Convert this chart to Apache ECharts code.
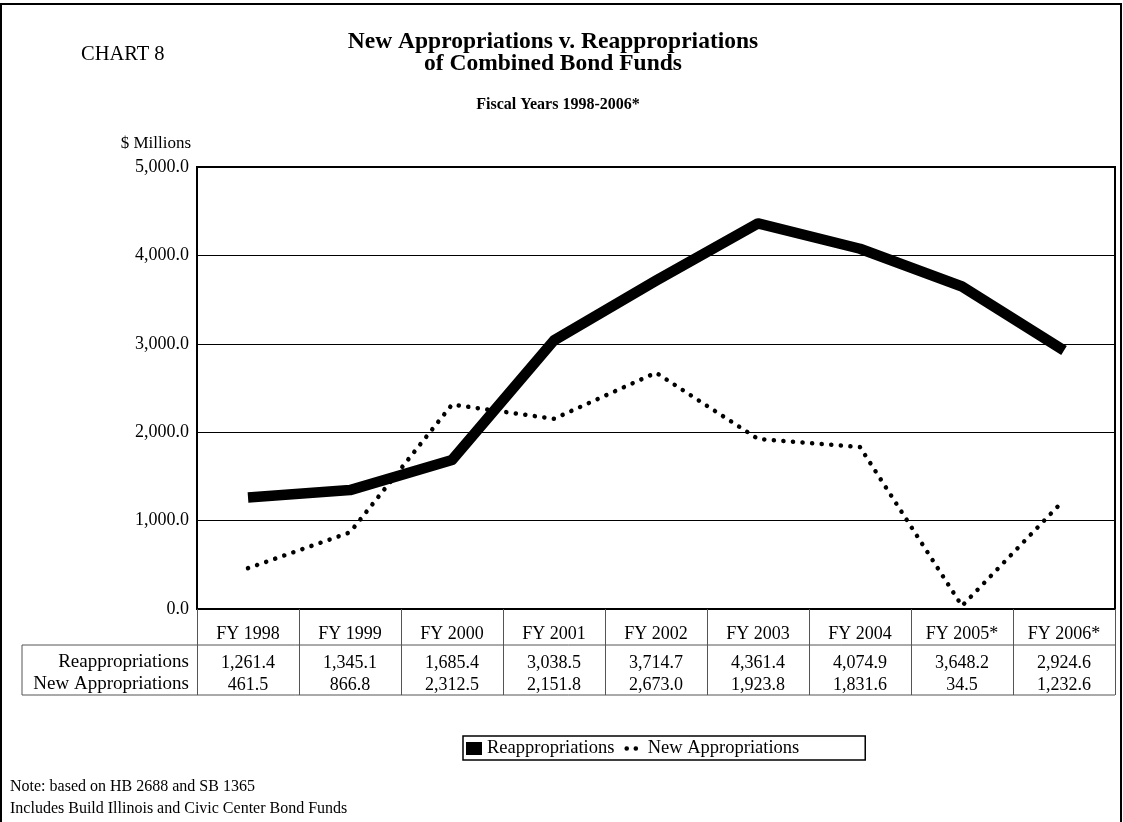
<!DOCTYPE html>
<html>
<head>
<meta charset="utf-8">
<script src="https://cdn.jsdelivr.net/npm/echarts@6/dist/echarts.min.js"></script>
<style>
  html, body { margin: 0; padding: 0; background: #fff; }
  #main { width: 1123px; height: 822px; }
</style>
</head>
<body>
<div id="main"></div>
<script>
// data
const years = ['FY 1998', 'FY 1999', 'FY 2000', 'FY 2001', 'FY 2002', 'FY 2003', 'FY 2004', 'FY 2005*', 'FY 2006*'];
const reapprop = [1261.4, 1345.1, 1685.4, 3038.5, 3714.7, 4361.4, 4074.9, 3648.2, 2924.6];
const newApprop = [461.5, 866.8, 2312.5, 2151.8, 2673.0, 1923.8, 1831.6, 34.5, 1232.6];
const yTicks = [0, 1000, 2000, 3000, 4000, 5000];

const font = 'Liberation Serif, Times New Roman, serif';
const fmt = v => v.toLocaleString('en-US', { minimumFractionDigits: 1, maximumFractionDigits: 1 });

// plot box
const L = 197, R = 1115, T = 167, B = 609;
const fs = 18;

const chart = echarts.init(document.getElementById('main'));

const option = {
  backgroundColor: '#fff',
  animation: false,
  textStyle: { fontFamily: font, color: '#000' },
  title: [
    {
      text: 'New Appropriations v. Reappropriations\nof Combined Bond Funds',
      left: 548, top: 26, textAlign: 'center',
      textStyle: { fontFamily: font, fontSize: 23.5, fontWeight: 'bold', lineHeight: 22, color: '#000' }
    },
    {
      text: 'Fiscal Years 1998-2006*',
      left: 553, top: 92, textAlign: 'center',
      textStyle: { fontFamily: font, fontSize: 16, fontWeight: 'bold', color: '#000' }
    },
    {
      text: 'CHART 8',
      left: 76, top: 39,
      textStyle: { fontFamily: font, fontSize: 20.5, fontWeight: 'normal', color: '#000' }
    }
  ],
  legend: {
    left: 463, top: 736,
    padding: [3, 66, 2, 3],
    itemGap: 10,
    itemWidth: 16, itemHeight: 13,
    borderColor: '#000', borderWidth: 1.5,
    textStyle: { fontFamily: font, fontSize: 18.5, color: '#000' },
    data: [
      { name: 'Reappropriations', icon: 'rect' },
      {
        name: 'New Appropriations', itemStyle: { opacity: 0 },
        lineStyle: { width: 4.5, type: [0.1, 9], cap: 'round' }
      }
    ]
  },
  grid: {
    left: L, right: 1123 - R, top: T, bottom: 822 - B,
    show: true, borderColor: '#000', borderWidth: 2
  },
  xAxis: [
    {
      type: 'category', data: years, boundaryGap: true,
      axisLine: { show: true, lineStyle: { color: '#000', width: 2 } },
      axisTick: { show: true, interval: 0, length: 86, lineStyle: { color: '#555', width: 1 } },
      axisLabel: { interval: 0, margin: 16, fontFamily: font, fontSize: fs, color: '#000' },
      splitLine: { show: false }
    },
    {
      type: 'category', data: reapprop.map(fmt), position: 'bottom', offset: 39,
      axisLine: { show: false }, axisTick: { show: false },
      axisLabel: { interval: 0, margin: 6, fontFamily: font, fontSize: fs, color: '#000' }
    },
    {
      type: 'category', data: newApprop.map(fmt), position: 'bottom', offset: 61,
      axisLine: { show: false }, axisTick: { show: false },
      axisLabel: { interval: 0, margin: 6, fontFamily: font, fontSize: fs, color: '#000' }
    }
  ],
  yAxis: {
    type: 'value',
    min: yTicks[0], max: yTicks[yTicks.length - 1], interval: 1000,
    name: '$ Millions', nameLocation: 'end', nameGap: 15,
    nameTextStyle: { fontFamily: font, fontSize: 17, color: '#000', align: 'right', padding: [0, 6, 0, 0] },
    axisLine: { show: false }, axisTick: { show: false },
    axisLabel: { margin: 8, fontFamily: font, fontSize: fs, color: '#000', formatter: v => fmt(v) },
    splitLine: { show: true, lineStyle: { color: '#000', width: 1 } }
  },
  series: [
    {
      name: 'Reappropriations', type: 'line', data: reapprop,
      symbol: 'none', color: '#000',
      lineStyle: { color: '#000', width: 10.5, cap: 'butt', join: 'round' }
    },
    {
      name: 'New Appropriations', type: 'line', data: newApprop,
      symbol: 'none', color: '#000',
      lineStyle: { color: '#000', width: 4.5, type: [0.1, 9.5], cap: 'round' }
    }
  ],
  graphic: [
    // outer frame
    { type: 'rect', shape: { x: 1, y: 4, width: 1120, height: 830 }, style: { fill: 'none', stroke: '#000', lineWidth: 2 }, silent: true },
    // data table outline and row labels
    { type: 'line', shape: { x1: 22, y1: 645, x2: R, y2: 645 }, style: { stroke: '#555', lineWidth: 1 } },
    { type: 'line', shape: { x1: 22, y1: 645, x2: 22, y2: 695 }, style: { stroke: '#555', lineWidth: 1 } },
    { type: 'line', shape: { x1: 22, y1: 695, x2: R, y2: 695 }, style: { stroke: '#555', lineWidth: 1 } },
    { type: 'text', right: 1123 - 189, top: 653, style: { text: 'Reappropriations', font: '19px ' + font, fill: '#000' } },
    { type: 'text', right: 1123 - 189, top: 675, style: { text: 'New Appropriations', font: '19px ' + font, fill: '#000' } },
    // notes
    { type: 'text', left: 10, top: 779, style: { text: 'Note: based on HB 2688 and SB 1365', font: '16px ' + font, fill: '#000' } },
    { type: 'text', left: 10, top: 801, style: { text: 'Includes Build Illinois and Civic Center Bond Funds', font: '16px ' + font, fill: '#000' } }
  ]
};

chart.setOption(option);
</script>
</body>
</html>
